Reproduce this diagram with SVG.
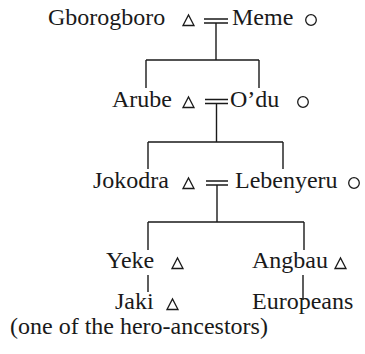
<svg xmlns="http://www.w3.org/2000/svg" width="365" height="354" viewBox="0 0 365 354">
<style>
.t{font-size:24px;fill:#1a1a1a}
.s{fill:none;stroke:#1a1a1a;stroke-width:1.3}
.l{fill:none;stroke:#1a1a1a;stroke-width:1.4}
</style>
<rect width="365" height="354" fill="#fff"/>
<defs>
<polygon id="tri" class="s" points="0,0 5.5,-10.5 11,0"/>
<circle id="cir" class="s" cx="0" cy="0" r="5.3"/>
</defs>
<g id="connectors">
<path class="l" d="M204,19H228M204,23H228M216,23V60M146,60H259M146,60V88M259,60V88"/>
<path class="l" d="M205,99.5H228M205,103.5H228M216.5,103.5V142M148,142H283M148,142V169M283,142V169"/>
<path class="l" d="M206,181H228M206,185H228M217,185V222M148,222H304M148,222V250M304,222V250"/>
<path class="l" d="M148,275V292M303,275V300"/>
</g>
<g font-family="Liberation Serif, Times New Roman, serif">
<g id="n-gborogboro"><text class="t" x="48" y="25">Gborogboro</text><use href="#tri" x="183" y="25.5"/></g>
<g id="n-meme"><text class="t" x="232" y="25">Meme</text><use href="#cir" x="311" y="20"/></g>
<g id="n-arube"><text class="t" x="112" y="107">Arube</text><use href="#tri" x="183" y="107.5"/></g>
<g id="n-odu"><text class="t" x="230" y="107">O’du</text><use href="#cir" x="303" y="102"/></g>
<g id="n-jokodra"><text class="t" x="93" y="188">Jokodra</text><use href="#tri" x="183" y="188.5"/></g>
<g id="n-lebenyeru"><text class="t" x="235" y="188">Lebenyeru</text><use href="#cir" x="354" y="183"/></g>
<g id="n-yeke"><text class="t" x="106" y="268">Yeke</text><use href="#tri" x="172" y="268.5"/></g>
<g id="n-angbau"><text class="t" x="252" y="268">Angbau</text><use href="#tri" x="335" y="268.5"/></g>
<g id="n-jaki"><text class="t" x="115" y="309">Jaki</text><use href="#tri" x="167" y="309.5"/></g>
<g id="n-europeans"><text class="t" x="252" y="309">Europeans</text></g>
<g id="note"><text class="t" x="10" y="334">(one of the hero-ancestors)</text></g>
</g>
</svg>
